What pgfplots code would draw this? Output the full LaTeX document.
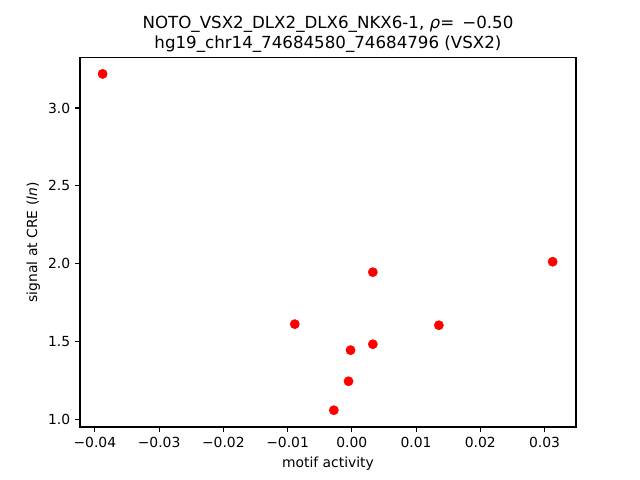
\documentclass[border=0pt]{standalone}
\usepackage{pgfplots}
\pgfplotsset{compat=1.18}
\usepackage{fontspec}
\setmainfont{DejaVu Sans}
\begin{document}
\begin{tikzpicture}
\begin{axis}[
  at={(0,0)}, anchor=south west,
  scale only axis, width=357.1pt, height=265.7pt,
  xmin=-0.04231, xmax=0.03489, ymin=0.9505, ymax=3.3215,
  xtick={-0.04,-0.03,-0.02,-0.01,0,0.01,0.02,0.03},
  xticklabels={−0.04,−0.03,−0.02,−0.01,0.00,0.01,0.02,0.03},
  ytick={1,1.5,2,2.5,3},
  yticklabels={1.0,1.5,2.0,2.5,3.0},
  scaled x ticks=false,
  tick align=outside, tick pos=left,
  major tick length=3.5pt,
  every tick/.style={black, line width=0.8pt},
  axis line style={line width=0.8pt},
  tick label style={font=\fontsize{10}{12}\selectfont},
  label style={font=\fontsize{10}{12}\selectfont},
  xlabel={motif activity},
  ylabel={signal at CRE (\textit{ln})},
  xlabel style={yshift=0pt},
  ylabel style={yshift=-1pt},
  title style={font=\fontsize{12}{14.5}\selectfont, align=center, yshift=-5.5pt},
  title={NOTO\_VSX2\_DLX2\_DLX6\_NKX6-1, {\itshape ρ}=\, −0.50\\hg19\_chr14\_74684580\_74684796 (VSX2)},
]
\addplot[only marks, mark=*, mark size=3.3pt, color=red, mark options={fill=red, draw=red}]
coordinates {
(-0.03879,3.2186)
(-0.00888,1.611)
(-0.0028,1.058)
(-0.00051,1.244)
(-0.0002,1.444)
(0.00327,1.482)
(0.00327,1.945)
(0.01355,1.604)
(0.03126,2.012)
};
\end{axis}
\path[use as bounding box] (-57.6pt,-38.16pt) rectangle (403.2pt,307.4pt);
\end{tikzpicture}
\end{document}
